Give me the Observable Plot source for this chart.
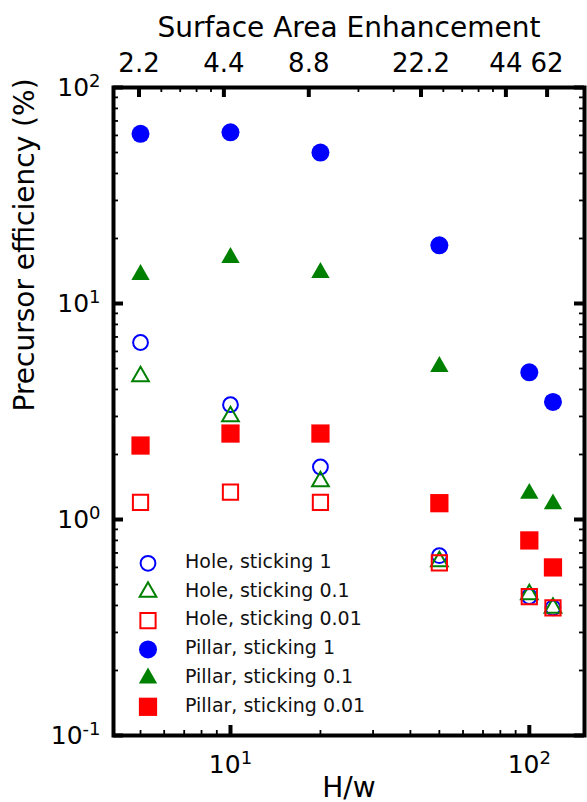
<!DOCTYPE html>
<html><head><meta charset="utf-8">
<script src="https://cdn.jsdelivr.net/npm/d3@7"></script>
<script src="https://cdn.jsdelivr.net/npm/@observablehq/plot@0.6"></script>
<style>
html,body{margin:0;padding:0;background:#fff;}
#chart{position:relative;width:587px;height:802px;overflow:hidden;}
#chart svg{display:block;}
</style></head><body><div id="chart"></div>
<script>
// ---- data ----
const hw = [5, 10, 20, 50, 100, 120];
const hole1     = [6.6, 3.4, 1.75, 0.68, 0.44, 0.39];
const hole01    = [4.6, 3.0, 1.5, 0.64, 0.45, 0.39];
const hole001   = [1.2, 1.34, 1.2, 0.63, 0.44, 0.39];
const pillar1   = [61, 62, 50, 18.6, 4.8, 3.5];
const pillar01  = [13.6, 16.3, 13.9, 5.1, 1.32, 1.18];
const pillar001 = [2.2, 2.5, 2.5, 1.19, 0.80, 0.60];

const seriesNames = ["Hole, sticking 1", "Hole, sticking 0.1", "Hole, sticking 0.01",
                     "Pillar, sticking 1", "Pillar, sticking 0.1", "Pillar, sticking 0.01"];
const seriesColors = ["#0000ff", "#008000", "#ff0000", "#0000ff", "#008000", "#ff0000"];
const seriesSymbols = ["circle", "triangle", "square", "circle", "triangle", "square"];
const seriesFilled = [false, false, false, true, true, true];
const seriesValues = [hole1, hole01, hole001, pillar1, pillar01, pillar001];

// top axis: surface-area enhancement labels at H/w positions of the (twin) top scale
const surfaceTickLabels = ["2.2", "4.4", "8.8", "22.2", "44", "62"];
const surfaceTickHw = [5, 10, 20, 50, 100, 140];
const topMinorHw = [6, 7, 8, 9, 30, 40, 60, 70, 80, 90];
const xDomain = [4.06, 153];
const topDomain = [4.06, 190];

const bottomMajor = [10, 100];
const bottomMinor = [5, 6, 7, 8, 9, 20, 30, 40, 50, 60, 70, 80, 90];
const yDomain = [0.1, 100];
const yMajor = [0.1, 1, 10, 100];
const yMinor = [0.2, 0.3, 0.4, 0.5, 0.6, 0.7, 0.8, 0.9,
                2, 3, 4, 5, 6, 7, 8, 9,
                20, 30, 40, 50, 60, 70, 80, 90];

// ---- layout ----
const W = 587, H = 802;
const mL = 113, mR = 3, mT = 87, mB = 67;
const frameW = W - mL - mR, frameH = H - mT - mB;
const majorLen = 10, minorLen = 5;
const font = "DejaVu Sans";

// map a value on the top (twin) log axis to the bottom axis data space
const L0 = Math.log10(xDomain[0]);
const kTop = (Math.log10(xDomain[1]) - L0) / (Math.log10(topDomain[1]) - Math.log10(topDomain[0]));
const topToBottom = v => 10 ** (L0 + (Math.log10(v) - Math.log10(topDomain[0])) * kTop);
const topLabels = surfaceTickHw.map((v, i) => ({x: topToBottom(v), label: surfaceTickLabels[i]}));

const sizeFor = (sym, filled) => {
  if (sym === "circle") return filled ? 9 : 7.4;
  if (sym === "triangle") return filled ? 6.8 : 6.2;
  return filled ? 10.3 : 8.6;
};

const dotMarks = seriesValues.map((vals, s) => {
  const rows = hw.map((x, i) => ({x, y: vals[i]}));
  const filled = seriesFilled[s];
  return Plot.dot(rows, {
    x: "x", y: "y",
    symbol: seriesSymbols[s],
    r: sizeFor(seriesSymbols[s], filled),
    fill: filled ? seriesColors[s] : "none",
    stroke: filled ? "none" : seriesColors[s],
    strokeWidth: filled ? 0 : 2
  });
});

const supFmt = d => "10^" + Math.round(Math.log10(d));

const chart = Plot.plot({
  width: W, height: H,
  marginLeft: mL, marginRight: mR, marginTop: mT, marginBottom: mB,
  style: {fontFamily: font, fontSize: "25px", color: "black", background: "white", overflow: "visible"},
  x: {type: "log", domain: xDomain},
  y: {type: "log", domain: yDomain},
  marks: [
    ...dotMarks,
    // inward ticks
    Plot.tickX(bottomMajor, {x: d => d, stroke: "black", strokeWidth: 4, insetTop: frameH - majorLen}),
    Plot.tickX(bottomMinor, {x: d => d, stroke: "black", strokeWidth: 1.8, insetTop: frameH - minorLen}),
    Plot.tickX(surfaceTickHw.map(topToBottom), {x: d => d, stroke: "black", strokeWidth: 4, insetBottom: frameH - majorLen}),
    Plot.tickX(topMinorHw.map(topToBottom), {x: d => d, stroke: "black", strokeWidth: 1.8, insetBottom: frameH - minorLen}),
    Plot.tickY(yMajor, {y: d => d, stroke: "black", strokeWidth: 4, insetRight: frameW - majorLen}),
    Plot.tickY(yMinor, {y: d => d, stroke: "black", strokeWidth: 1.8, insetRight: frameW - minorLen}),
    Plot.tickY(yMajor, {y: d => d, stroke: "black", strokeWidth: 4, insetLeft: frameW - majorLen}),
    Plot.tickY(yMinor, {y: d => d, stroke: "black", strokeWidth: 1.8, insetLeft: frameW - minorLen}),
    Plot.frame({stroke: "black", strokeWidth: 4}),
    // tick labels
    Plot.axisX({anchor: "bottom", ticks: bottomMajor, tickSize: 0, tickPadding: 20,
                tickFormat: supFmt, fontSize: 25, label: null}),
    Plot.text(topLabels, {x: "x", text: "label", frameAnchor: "top", lineAnchor: "bottom", dy: -16, fontSize: 26}),
    Plot.axisY({anchor: "left", ticks: yMajor, tickSize: 0, tickPadding: 13,
                tickFormat: supFmt, fontSize: 25, label: null}),
    // axis titles
    Plot.text(["Surface Area Enhancement"], {text: d => d, frameAnchor: "top", lineAnchor: "bottom", dy: -50.5, fontSize: 28}),
    Plot.text(["H/w"], {text: d => d, frameAnchor: "bottom", lineAnchor: "bottom", dy: 61, fontSize: 28}),
    Plot.text(["Precursor efficiency (%)"], {text: d => d, frameAnchor: "left", rotate: -90, lineAnchor: "bottom", dx: -80, dy: 0, fontSize: 28})
  ]
});

// turn "10^k" into 10 with a superscript
d3.select(chart).selectAll("text").each(function() {
  const t = this.textContent;
  const m = /^10\^(-?\d+)$/.exec(t);
  if (!m) return;
  const el = d3.select(this);
  el.text("10");
  el.append("tspan").attr("dy", "-0.5em").attr("font-size", "72%").text(m[1]);
});

const host = document.getElementById("chart");
host.appendChild(chart);

// in-plot legend (lower left)
const legendX = 148, legendY0 = 563.3, legendStep = 28.7, legendTextX = 185;
const symMap = {circle: d3.symbolCircle, triangle: d3.symbolTriangle, square: d3.symbolSquare};
const leg = d3.select(host).append("svg")
  .attr("width", W).attr("height", H)
  .style("position", "absolute").style("left", "0px").style("top", "0px")
  .style("pointer-events", "none");
seriesNames.forEach((name, i) => {
  const y = legendY0 + i * legendStep;
  const r = sizeFor(seriesSymbols[i], seriesFilled[i]);
  leg.append("path")
    .attr("transform", `translate(${legendX},${y})`)
    .attr("d", d3.symbol(symMap[seriesSymbols[i]], Math.PI * r * r)())
    .attr("fill", seriesFilled[i] ? seriesColors[i] : "none")
    .attr("stroke", seriesFilled[i] ? "none" : seriesColors[i])
    .attr("stroke-width", 2);
  leg.append("text")
    .attr("x", legendTextX).attr("y", y + 4.7)
    .attr("font-family", font).attr("font-size", 19)
    .attr("fill", "#111")
    .text(name);
});
</script></body></html>
